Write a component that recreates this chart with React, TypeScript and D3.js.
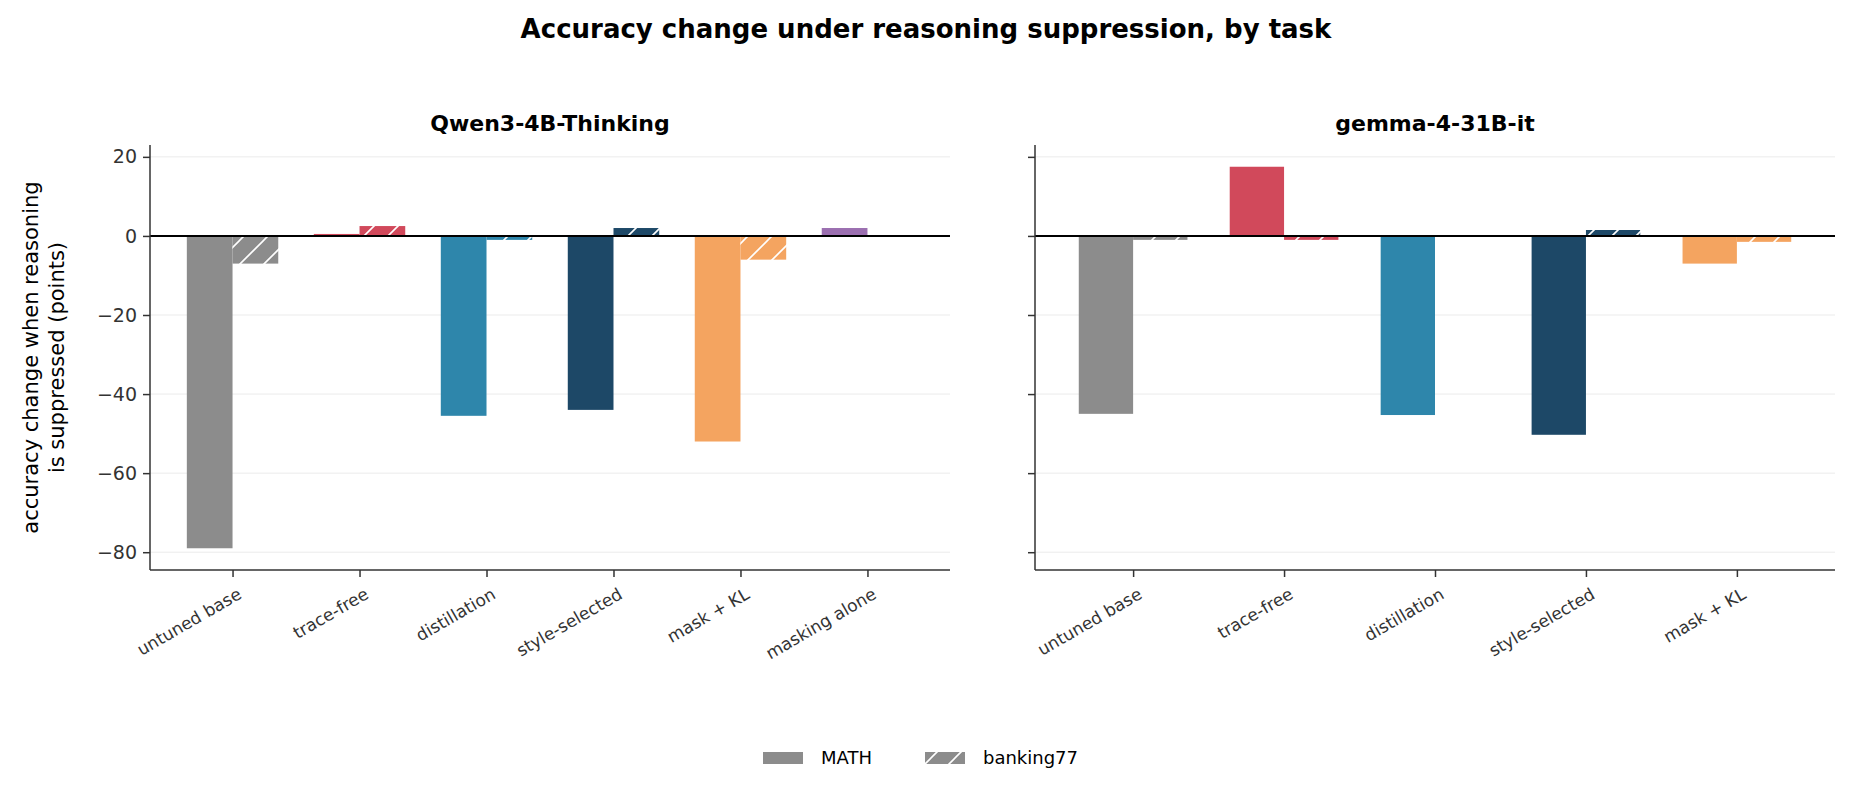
import { useEffect, useRef } from 'react';
import * as d3 from 'd3';

const qwenCats = ['untuned base', 'trace-free', 'distillation', 'style-selected', 'mask + KL', 'masking alone'];
const qwenMath = [-79, 0.5, -45.5, -44, -52, 2];
const qwenBank: (number | null)[] = [-7, 2.5, -1, 2, -6, null];

const gemmaCats = ['untuned base', 'trace-free', 'distillation', 'style-selected', 'mask + KL'];
const gemmaMath = [-45, 17.5, -45.3, -50.3, -7];
const gemmaBank: (number | null)[] = [-1, -1, null, 1.5, -1.5];

const catColors: Record<string, string> = {
  'untuned base': '#8c8c8c',
  'trace-free': '#d1495b',
  distillation: '#2e86ab',
  'style-selected': '#1d4867',
  'mask + KL': '#f4a460',
  'masking alone': '#9b6fb0',
};

const yTicks = [20, 0, -20, -40, -60, -80];
const W = 1852;
const H = 796;
const FONT = 'DejaVu Sans, sans-serif';

export default function App() {
  const ref = useRef<SVGSVGElement>(null);

  useEffect(() => {
    const svg = d3.select(ref.current!);
    svg.selectAll('*').remove();
    svg.attr('width', W).attr('height', H).style('background', '#fff').style('font-family', FONT);

    const defs = svg.append('defs');
    Object.entries(catColors).forEach(([k, c], i) => {
      const p = defs.append('pattern').attr('id', 'hatch' + i).attr('patternUnits', 'userSpaceOnUse')
        .attr('width', 24).attr('height', 24);
      p.append('rect').attr('width', 24).attr('height', 24).attr('fill', c);
      p.append('path').attr('d', 'M-6,30 L30,-6 M-18,18 L18,-18 M6,42 L42,6')
        .attr('stroke', '#fff').attr('stroke-width', 1.6);
      catColors[k + '#h'] = `url(#hatch${i})`;
    });

    svg.append('text').attr('x', W / 2).attr('y', 38).attr('text-anchor', 'middle')
      .attr('font-size', 26).attr('font-weight', 'bold').text('Accuracy change under reasoning suppression, by task');

    const top = 145, bottom = 570;
    const y = d3.scaleLinear().domain([23, -84.5]).range([top, bottom]);

    const panel = (x0: number, x1: number, title: string, cats: string[], math: number[], bank: (number | null)[], showY: boolean) => {
      const g = svg.append('g');
      const x = d3.scalePoint<string>().domain(cats).range([x0, x1]).padding(0.65);
      const step = x.step();
      const bw = step * 0.36;

      g.selectAll('.grid').data(yTicks).join('line')
        .attr('x1', x0).attr('x2', x1).attr('y1', (d) => y(d)).attr('y2', (d) => y(d))
        .attr('stroke', '#ebebeb').attr('stroke-width', 1);

      cats.forEach((c, i) => {
        const cx = x(c)!;
        const m = math[i];
        g.append('rect').attr('x', cx - bw).attr('width', bw)
          .attr('y', y(Math.max(0, m))).attr('height', Math.abs(y(m) - y(0)))
          .attr('fill', catColors[c]);
        const b = bank[i];
        if (b != null) {
          g.append('rect').attr('x', cx).attr('width', bw)
            .attr('y', y(Math.max(0, b))).attr('height', Math.abs(y(b) - y(0)))
            .attr('fill', catColors[c + '#h']);
        }
      });

      g.append('line').attr('x1', x0).attr('x2', x1).attr('y1', y(0)).attr('y2', y(0))
        .attr('stroke', '#000').attr('stroke-width', 2);

      const ya = g.append('g').attr('transform', `translate(${x0},0)`)
        .call(d3.axisLeft(y).tickValues(yTicks).tickSize(7).tickPadding(6)
          .tickFormat((d) => (showY ? d3.format('')(d as number).replace('-', '\u2212') : '')));
      ya.select('.domain').attr('d', `M0,${top}V${bottom}`).attr('stroke', '#333').attr('stroke-width', 1.5);
      ya.selectAll('line').attr('stroke', '#333').attr('stroke-width', 1.5);
      ya.selectAll('text').attr('font-size', 19).attr('fill', '#333').attr('font-family', FONT);

      const xa = g.append('g').attr('transform', `translate(0,${bottom})`)
        .call(d3.axisBottom(x).tickSize(7).tickSizeOuter(0));
      xa.select('.domain').attr('d', `M${x0},0H${x1}`).attr('stroke', '#333').attr('stroke-width', 1.5);
      xa.selectAll('line').attr('stroke', '#333').attr('stroke-width', 1.5);
      xa.selectAll('text').attr('font-size', 17).attr('fill', '#333').attr('font-family', FONT)
        .attr('text-anchor', 'end').attr('transform', 'translate(0,4) rotate(-30)').attr('dy', '0.9em').attr('dx', '-0.2em');

      g.append('text').attr('x', (x0 + x1) / 2).attr('y', 131).attr('text-anchor', 'middle')
        .attr('font-size', 22).attr('font-weight', 'bold').text(title);
    };

    panel(150, 950, 'Qwen3-4B-Thinking', qwenCats, qwenMath, qwenBank, true);
    panel(1035, 1835, 'gemma-4-31B-it', gemmaCats, gemmaMath, gemmaBank, false);

    const yl = svg.append('text').attr('transform', `translate(38,${(top + bottom) / 2}) rotate(-90)`)
      .attr('text-anchor', 'middle').attr('font-size', 21);
    yl.append('tspan').attr('x', 0).attr('dy', 0).text('accuracy change when reasoning');
    yl.append('tspan').attr('x', 0).attr('dy', 26).text('is suppressed (points)');

    const lg = svg.append('g').attr('transform', 'translate(763,758)');
    lg.append('rect').attr('x', 0).attr('y', -6).attr('width', 40).attr('height', 12).attr('fill', '#8c8c8c');
    lg.append('text').attr('x', 58).attr('y', 6).attr('font-size', 18).text('MATH');
    lg.append('rect').attr('x', 162).attr('y', -6).attr('width', 40).attr('height', 12).attr('fill', catColors['untuned base#h']);
    lg.append('text').attr('x', 220).attr('y', 6).attr('font-size', 18).text('banking77');
  }, []);

  return <svg ref={ref} style={{ display: 'block', margin: '-8px' }} />;
}
